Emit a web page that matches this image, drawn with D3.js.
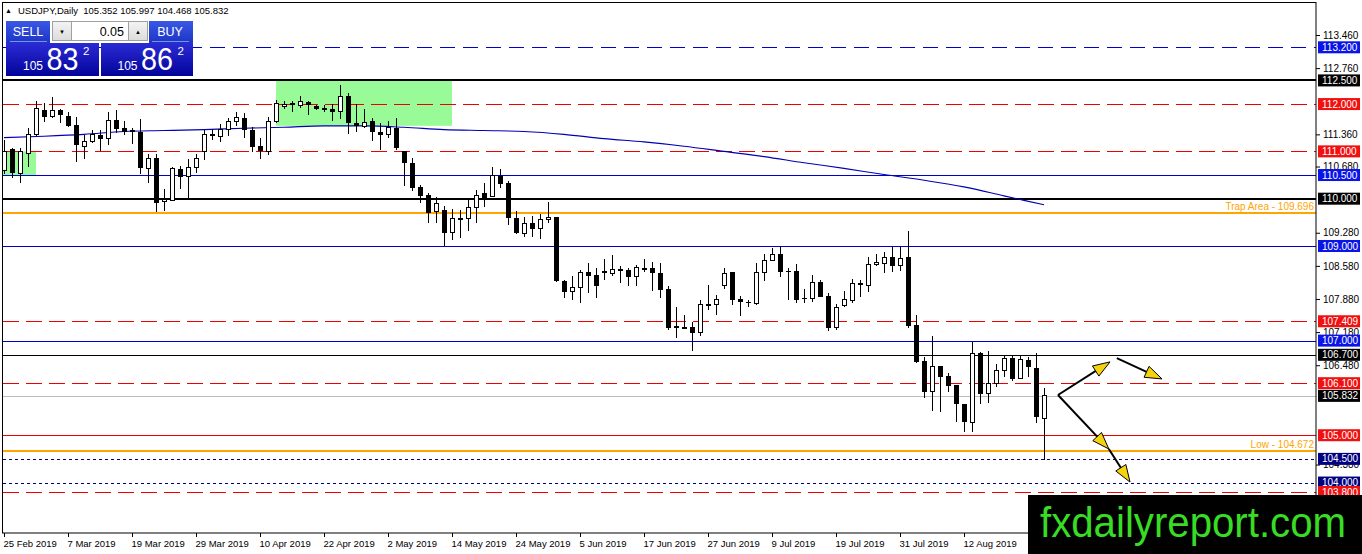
<!DOCTYPE html>
<html lang="en">
<head>
<meta charset="UTF-8">
<script src="https://d3js.org/d3.v7.min.js"></script>
<style>
    html, body { margin: 0; padding: 0; background: #fff; }
    svg { display: block; }
    text { font-family: "Liberation Sans", Arial, sans-serif; }
</style>
</head>
<body>
<svg id="chart" width="1362" height="554"></svg>
<script>
// ---- data ----
const symbolTitle = "USDJPY,Daily  105.352 105.997 104.468 105.832";

const dateLabels = ["25 Feb 2019", "7 Mar 2019", "19 Mar 2019", "29 Mar 2019", "10 Apr 2019", "22 Apr 2019",
    "2 May 2019", "14 May 2019", "24 May 2019", "5 Jun 2019", "17 Jun 2019", "27 Jun 2019", "9 Jul 2019",
    "19 Jul 2019", "31 Jul 2019", "12 Aug 2019"];
const labelBars = [0, 8, 16, 24, 32, 40, 48, 56, 64, 72, 80, 88, 96, 104, 112, 120];

const opens = [110.60, 111.05, 110.54, 110.96, 111.36, 111.87, 111.73, 111.87, 111.75, 111.56,
    111.10, 111.20, 111.35, 111.28, 111.66, 111.50, 111.45, 111.42, 110.64, 110.86,
    109.95, 109.97, 110.63, 110.46, 110.65, 111.00, 111.33, 111.31, 111.47, 111.63,
    111.71, 111.45, 111.12, 111.00, 111.63, 111.94, 112.00, 111.98, 112.05, 111.96,
    111.90, 111.90, 111.84, 112.17, 111.60, 111.53, 111.64, 111.42, 111.35, 111.50,
    111.00, 110.75, 110.25, 110.08, 109.73, 109.76, 109.28, 109.58, 109.59, 109.82,
    110.12, 110.04, 110.48, 110.33, 109.59, 109.27, 109.48, 109.36, 109.57, 109.61,
    108.26, 108.03, 108.13, 108.45, 108.39, 108.47, 108.42, 108.51, 108.49, 108.35,
    108.52, 108.53, 108.42, 108.09, 107.29, 107.27, 107.28, 107.17, 107.76, 107.77,
    108.16, 108.44, 107.88, 107.82, 107.79, 108.44, 108.70, 108.83, 108.47, 108.47,
    107.90, 107.89, 108.23, 107.94, 107.28, 107.74, 107.84, 108.22, 108.17, 108.61,
    108.63, 108.76, 108.58, 108.76, 107.33, 106.57, 105.92, 106.46, 106.25, 106.06,
    105.66, 105.27, 106.73, 105.88, 106.10, 106.36, 106.63, 106.20, 106.60, 106.43,
    105.352];
const highs = [111.24, 111.07, 111.07, 111.49, 112.07, 112.02, 112.15, 111.90, 111.84, 111.73,
    111.35, 111.45, 111.45, 111.83, 111.87, 111.65, 111.50, 111.69, 110.94, 110.94,
    110.20, 110.67, 110.69, 110.84, 110.94, 111.45, 111.47, 111.58, 111.71, 111.83,
    111.81, 111.52, 111.28, 111.73, 112.09, 112.07, 112.07, 112.17, 112.07, 111.97,
    111.98, 112.00, 112.40, 112.23, 112.00, 111.89, 111.70, 111.60, 111.65, 111.70,
    111.01, 110.86, 110.29, 110.12, 110.04, 109.85, 109.78, 109.76, 109.99, 110.18,
    110.33, 110.68, 110.63, 110.38, 109.75, 109.61, 109.63, 109.67, 109.92, 109.62,
    108.28, 108.37, 108.49, 108.64, 108.53, 108.72, 108.81, 108.58, 108.53, 108.60,
    108.72, 108.67, 108.65, 108.15, 107.72, 107.54, 107.40, 107.86, 108.17, 107.96,
    108.54, 108.46, 107.94, 107.86, 108.65, 108.84, 108.95, 109.00, 108.53, 108.63,
    108.10, 108.39, 108.28, 108.01, 107.77, 108.05, 108.30, 108.28, 108.77, 108.84,
    108.88, 108.98, 108.98, 109.32, 107.55, 106.66, 107.10, 106.46, 106.31, 106.07,
    105.66, 106.98, 106.76, 106.78, 106.50, 106.70, 106.70, 106.67, 106.66, 106.73,
    105.997];
const lows = [110.52, 110.43, 110.33, 110.67, 111.33, 111.63, 111.70, 111.60, 111.52, 110.78,
    110.84, 111.18, 111.00, 111.13, 111.39, 111.35, 111.15, 110.52, 110.33, 109.72,
    109.73, 109.95, 110.20, 110.00, 110.54, 110.82, 111.24, 111.20, 111.33, 111.53,
    111.28, 110.99, 110.84, 110.92, 111.60, 111.90, 111.84, 111.92, 111.77, 111.88,
    111.84, 111.65, 111.68, 111.37, 111.42, 111.50, 111.22, 111.03, 111.28, 111.03,
    110.27, 110.17, 109.91, 109.49, 109.49, 109.00, 109.13, 109.17, 109.32, 109.49,
    109.82, 110.03, 110.23, 109.44, 109.26, 109.20, 109.20, 109.15, 109.48, 108.24,
    107.90, 107.86, 107.80, 108.01, 107.90, 108.28, 108.37, 108.22, 108.15, 108.15,
    108.46, 108.05, 107.90, 107.22, 107.05, 107.24, 106.77, 107.10, 107.65, 107.54,
    108.10, 107.75, 107.53, 107.70, 107.75, 108.27, 108.70, 108.34, 107.86, 107.80,
    107.80, 107.82, 107.92, 107.21, 107.22, 107.70, 107.80, 107.93, 108.03, 108.57,
    108.43, 108.44, 108.48, 107.26, 106.52, 105.78, 105.51, 105.50, 105.92, 105.27,
    105.06, 105.06, 105.65, 105.69, 106.02, 106.24, 106.15, 106.18, 106.24, 105.25,
    104.468];
const closes = [111.00, 110.54, 111.00, 111.36, 111.90, 111.73, 111.87, 111.77, 111.54, 111.14,
    111.20, 111.35, 111.26, 111.66, 111.47, 111.41, 111.41, 110.64, 110.86, 109.90,
    109.99, 110.63, 110.46, 110.65, 110.84, 111.35, 111.35, 111.47, 111.63, 111.71,
    111.45, 111.10, 111.01, 111.63, 112.02, 112.00, 112.02, 112.05, 111.98, 111.89,
    111.91, 111.83, 112.17, 111.60, 111.53, 111.60, 111.40, 111.35, 111.50, 111.07,
    110.75, 110.22, 110.06, 109.70, 109.90, 109.28, 109.59, 109.59, 109.82, 110.06,
    110.01, 110.48, 110.31, 109.59, 109.27, 109.48, 109.36, 109.57, 109.61, 108.26,
    108.03, 108.13, 108.45, 108.37, 108.15, 108.42, 108.50, 108.47, 108.35, 108.55,
    108.53, 108.42, 108.07, 107.27, 107.30, 107.28, 107.17, 107.77, 107.77, 107.86,
    108.42, 107.86, 107.81, 107.79, 108.44, 108.70, 108.83, 108.46, 108.44, 107.86,
    107.89, 108.23, 107.93, 107.26, 107.70, 107.86, 108.21, 108.17, 108.61, 108.65,
    108.76, 108.58, 108.74, 107.31, 106.55, 105.92, 106.46, 106.24, 106.05, 105.66,
    105.27, 106.73, 105.88, 106.10, 106.36, 106.63, 106.19, 106.60, 106.45, 105.39,
    105.832];

// moving average, read every 5 bars
const maBars = [0, 5, 10, 15, 20, 25, 30, 35, 40, 45, 50, 55, 60, 65, 70, 75, 80, 85, 90, 95,
    100, 105, 110, 115, 120, 125, 130];
const maValues = [111.29, 111.32, 111.36, 111.42, 111.44, 111.46, 111.49, 111.51, 111.54, 111.54,
    111.51, 111.46, 111.44, 111.42, 111.36, 111.27, 111.20, 111.11, 111.00, 110.89,
    110.76, 110.64, 110.51, 110.39, 110.25, 110.06, 109.87];

// visible price-scale ticks (the rest sit behind the level boxes)
const priceTicks = [113.46, 112.76, 111.36, 110.68, 109.28, 108.58, 107.88, 107.18, 106.48, 104.38];

const levelPrices = [113.2, 112.5, 112.0, 111.0, 110.5, 110.0, 109.696, 109.0, 107.409, 107.0,
    106.7, 106.1, 105.832, 105.0, 104.672, 104.5, 104.0, 103.8];
const levelKinds = ["blueDash", "black2", "redDash", "redDash", "blue", "black2", "orange", "blue", "redDash", "blue",
    "black", "redDash", "bid", "red", "orange", "navyDot", "navyDot", "redDash"];
const levelNotes = { 109.696: "Trap Area - 109.696", 104.672: "Low - 104.672" };

// green zones: [bar from, bar to], [price top, price bottom]
const zoneBars = [[-1, 4], [34, 56]];
const zonePrices = [[111.0, 110.5], [112.5, 111.54]];

// drawn arrows in bar / price units
const arrowFrom = [[131.75, 105.85], [131.75, 105.85], [138.1, 104.71], [139.1, 106.63]];
const arrowTo = [[138.25, 106.55], [138.1, 104.71], [140.75, 104.01], [144.75, 106.19]];

const sellPrice = ["105", "83", "2"];
const buyPrice = ["105", "86", "2"];
const lotSize = "0.05";

// ---- styles ----
const levelStyle = {
    blueDash: { stroke: "#0000cc", width: 1, dash: "15,8", box: "#0a14e6" },
    black2: { stroke: "#000", width: 2, dash: null, box: "#000" },
    black: { stroke: "#000", width: 1, dash: null, box: "#000" },
    redDash: { stroke: "#ee0000", width: 1, dash: "16,7", box: "#f01010" },
    red: { stroke: "#ee0000", width: 1, dash: null, box: "#f01010" },
    blue: { stroke: "#0000cc", width: 1, dash: null, box: "#0a14e6" },
    navyDot: { stroke: "#000080", width: 1, dash: "3,3", box: "#000080" },
    bid: { stroke: "#bdbdbd", width: 1, dash: null, box: "#000" },
    orange: { stroke: "#ffa500", width: 2, dash: null, box: null }
};

const W = 1362, H = 554;
const plotL = 2.5, plotT = 2.5, plotR = 1316, plotB = 533;

const svg = d3.select("#chart");

const x = d3.scaleLinear().domain([0, 164]).range([4, plotR]);
const y = d3.scaleLinear().domain([103.8, 113.46]).range([492, 35]);

const defs = svg.append("defs");
defs.append("clipPath").attr("id", "plot")
    .append("rect").attr("x", 3).attr("y", 3).attr("width", plotR - 3).attr("height", plotB - 3);

function grad(id, c1, c2) {
    const g = defs.append("linearGradient").attr("id", id)
        .attr("x1", 0).attr("y1", 0).attr("x2", 0).attr("y2", 1);
    g.append("stop").attr("offset", "0%").attr("stop-color", c1);
    g.append("stop").attr("offset", "100%").attr("stop-color", c2);
}
grad("hdr", "#3a58e6", "#1c34c4");
grad("px", "#2b2bd6", "#03039a");
grad("btn", "#f4f4f4", "#dcdcdc");

const plot = svg.append("g").attr("clip-path", "url(#plot)");

// zones
plot.selectAll(".zone")
    .data(zoneBars)
    .enter().append("rect")
    .attr("x", d => x(d[0]))
    .attr("width", d => x(d[1]) - x(d[0]))
    .attr("y", (d, i) => y(zonePrices[i][0]))
    .attr("height", (d, i) => y(zonePrices[i][1]) - y(zonePrices[i][0]))
    .attr("fill", "#98fb98");

// horizontal levels
const snap = (p, w) => w % 2 ? Math.round(y(p)) + 0.5 : Math.round(y(p));
plot.selectAll(".level")
    .data(levelPrices)
    .enter().append("line")
    .attr("x1", 3).attr("x2", plotR)
    .attr("y1", (d, i) => snap(d, levelStyle[levelKinds[i]].width))
    .attr("y2", (d, i) => snap(d, levelStyle[levelKinds[i]].width))
    .attr("stroke", (d, i) => levelStyle[levelKinds[i]].stroke)
    .attr("stroke-width", (d, i) => levelStyle[levelKinds[i]].width)
    .attr("stroke-dasharray", (d, i) => levelStyle[levelKinds[i]].dash);

// notes on orange lines
Object.keys(levelNotes).forEach(k => {
    plot.append("text")
        .attr("x", plotR - 2)
        .attr("y", y(+k) - 3)
        .attr("text-anchor", "end")
        .style("font-size", "10px")
        .attr("fill", "#ffa500")
        .text(levelNotes[k]);
});

// moving average
const maLine = d3.line()
    .x((d, i) => x(maBars[i]))
    .y(d => y(d))
    .curve(d3.curveMonotoneX);
plot.append("path")
    .datum(maValues)
    .attr("d", maLine)
    .attr("fill", "none")
    .attr("stroke", "#0000b4")
    .attr("stroke-width", 1.1);

// candles
const bars = d3.range(opens.length);
const cg = plot.append("g").attr("shape-rendering", "crispEdges");
cg.selectAll(".wick")
    .data(bars)
    .enter().append("line")
    .attr("x1", i => Math.round(x(i)) + 0.5)
    .attr("x2", i => Math.round(x(i)) + 0.5)
    .attr("y1", i => y(highs[i]))
    .attr("y2", i => y(lows[i]))
    .attr("stroke", "#000");
cg.selectAll(".body")
    .data(bars)
    .enter().append("rect")
    .attr("x", i => closes[i] >= opens[i] ? Math.round(x(i)) - 1.5 : Math.round(x(i)) - 2)
    .attr("width", i => closes[i] >= opens[i] ? 4 : 5)
    .attr("y", i => y(Math.max(opens[i], closes[i])))
    .attr("height", i => Math.max(1, Math.abs(y(opens[i]) - y(closes[i]))))
    .attr("fill", i => closes[i] >= opens[i] ? "#fff" : "#000")
    .attr("stroke", i => closes[i] >= opens[i] ? "#000" : "none");

// arrows
const ag = plot.append("g");
arrowFrom.forEach((f, i) => {
    const t = arrowTo[i];
    const x1 = x(f[0]), y1 = y(f[1]), x2 = x(t[0]), y2 = y(t[1]);
    const a = Math.atan2(y2 - y1, x2 - x1);
    ag.append("line")
        .attr("x1", x1).attr("y1", y1)
        .attr("x2", x2 - Math.cos(a) * 8).attr("y2", y2 - Math.sin(a) * 8)
        .attr("stroke", "#000").attr("stroke-width", 2);
    const L = 17, hw = 6;
    const bx = x2 - Math.cos(a) * L, by = y2 - Math.sin(a) * L;
    const pts = [[x2, y2],
        [bx + Math.sin(a) * hw, by - Math.cos(a) * hw],
        [bx - Math.sin(a) * hw, by + Math.cos(a) * hw]];
    ag.append("polygon")
        .attr("points", pts.map(p => p.join(",")).join(" "))
        .attr("fill", "#f5d40f")
        .attr("stroke", "#000")
        .attr("stroke-width", 1);
});

// frame
svg.append("rect")
    .attr("x", plotL).attr("y", plotT)
    .attr("width", plotR - plotL).attr("height", plotB - plotT)
    .attr("fill", "none").attr("stroke", "#000").attr("stroke-width", 1);

// price axis
const yAxis = svg.append("g")
    .attr("transform", `translate(${plotR},0)`)
    .call(d3.axisRight(y).tickValues(priceTicks).tickSize(4).tickPadding(3).tickFormat(d3.format(".3f")));
yAxis.select(".domain").remove();
yAxis.selectAll("text").style("font-size", "10px").attr("fill", "#000");

// time axis
const xAxis = svg.append("g")
    .attr("transform", `translate(0,${plotB})`)
    .call(d3.axisBottom(x).tickValues(labelBars).tickSize(4).tickPadding(3).tickFormat((d, i) => dateLabels[i]));
xAxis.select(".domain").remove();
xAxis.selectAll("text")
    .attr("text-anchor", "start")
    .attr("dx", -1)
    .style("font-size", "9.5px")
    .attr("fill", "#000");

// level price boxes
const boxes = svg.append("g");
levelPrices.forEach((p, i) => {
    const st = levelStyle[levelKinds[i]];
    if (!st.box) return;
    const cy = y(p);
    boxes.append("rect")
        .attr("x", 1318).attr("y", cy - 6)
        .attr("width", 42).attr("height", 12)
        .attr("fill", st.box);
    boxes.append("text")
        .attr("x", 1322).attr("y", cy + 3.6)
        .style("font-size", "10px")
        .attr("fill", "#fff")
        .text(d3.format(".3f")(p));
});

// header
svg.append("text")
    .attr("x", 5).attr("y", 13)
    .style("font-size", "7px")
    .text("\u25B2");
svg.append("text")
    .attr("x", 18).attr("y", 14)
    .style("font-size", "9.5px")
    .style("white-space", "pre")
    .attr("fill", "#000")
    .text(symbolTitle);

// one-click trading panel
const panel = svg.append("g");
panel.append("rect").attr("x", 6).attr("y", 21).attr("width", 44).attr("height", 22).attr("fill", "url(#hdr)");
panel.append("rect").attr("x", 149).attr("y", 21).attr("width", 44).attr("height", 22).attr("fill", "url(#hdr)");
panel.append("rect").attr("x", 6).attr("y", 43).attr("width", 93).attr("height", 33).attr("fill", "url(#px)");
panel.append("rect").attr("x", 101).attr("y", 43).attr("width", 92).attr("height", 33).attr("fill", "url(#px)");
panel.append("line").attr("x1", 10).attr("x2", 47).attr("y1", 41.5).attr("y2", 41.5).attr("stroke", "#7f8fea");
panel.append("line").attr("x1", 152).attr("x2", 189).attr("y1", 41.5).attr("y2", 41.5).attr("stroke", "#7f8fea");
panel.append("text").attr("x", 28).attr("y", 36).attr("text-anchor", "middle")
    .style("font-size", "12.5px").attr("fill", "#fff").text("SELL");
panel.append("text").attr("x", 170).attr("y", 36).attr("text-anchor", "middle")
    .style("font-size", "12.5px").attr("fill", "#fff").text("BUY");

// lot spinner
panel.append("rect").attr("x", 52.5).attr("y", 21.5).attr("width", 95).attr("height", 19)
    .attr("fill", "#fff").attr("stroke", "#a0a0a0");
panel.append("rect").attr("x", 52.5).attr("y", 21.5).attr("width", 19).attr("height", 19)
    .attr("fill", "url(#btn)").attr("stroke", "#a0a0a0");
panel.append("rect").attr("x", 128.5).attr("y", 21.5).attr("width", 19).attr("height", 19)
    .attr("fill", "url(#btn)").attr("stroke", "#a0a0a0");
panel.append("text").attr("x", 62).attr("y", 33.5).attr("text-anchor", "middle")
    .style("font-size", "6px").text("\u25BC");
panel.append("text").attr("x", 138).attr("y", 33.5).attr("text-anchor", "middle")
    .style("font-size", "6px").text("\u25B2");
panel.append("text").attr("x", 124).attr("y", 35.5).attr("text-anchor", "end")
    .style("font-size", "12.5px").attr("fill", "#000").text(lotSize);

// bid / ask quotes
function quote(parts, x0) {
    panel.append("text").attr("x", x0).attr("y", 70)
        .style("font-size", "12px").attr("fill", "#fff").text(parts[0]);
    panel.append("text").attr("x", x0 + 23.5).attr("y", 70)
        .style("font-size", "32px").attr("fill", "#fff")
        .attr("textLength", 32).attr("lengthAdjust", "spacingAndGlyphs").text(parts[1]);
    panel.append("text").attr("x", x0 + 60).attr("y", 55)
        .style("font-size", "11.5px").attr("fill", "#fff").text(parts[2]);
}
quote(sellPrice, 23);
quote(buyPrice, 117.5);

// watermark
svg.append("rect")
    .attr("x", 1028).attr("y", 495)
    .attr("width", W - 1028).attr("height", H - 495)
    .attr("fill", "#000");
svg.append("text")
    .attr("x", 1040).attr("y", 537)
    .style("font-size", "42px")
    .attr("fill", "#38dc24")
    .attr("textLength", 306)
    .attr("lengthAdjust", "spacingAndGlyphs")
    .text("fxdailyreport.com");
</script>
</body>
</html>
